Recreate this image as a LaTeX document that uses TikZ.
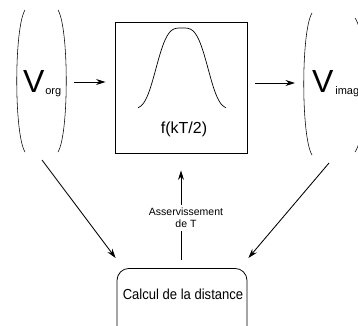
\documentclass[tikz,border=0pt]{standalone}
\usepackage{fontspec}
\setmainfont{Liberation Sans}
\newfontfamily\narrowf[FakeStretch=0.9]{Liberation Sans}
\usetikzlibrary{arrows.meta,calc}
\begin{document}
\begin{tikzpicture}[x=1pt,y=-1pt,
  arr/.style={-{Stealth[length=9.5pt,width=6pt]}, line width=0.85pt},
  brk/.style={line width=0.55pt},
  frame/.style={draw, line width=0.9pt, minimum width=132pt, minimum height=131pt, inner sep=0pt},
  holder/.style={inner sep=0pt, outer sep=0pt},
  rbox/.style={draw, line width=0.8pt, rounded corners=12pt, minimum width=130pt, minimum height=80pt, inner sep=0pt}
]
\useasboundingbox (0,0) rectangle (358,325);
\clip (0,0) rectangle (358,325);

% main nodes
\node[frame] (fbox) at (181,87.5) {};
\node[holder, minimum width=51pt, minimum height=142pt] (lb) at (41.5,82) {};
\node[holder, minimum width=63pt, minimum height=141pt] (rb) at (334.5,83) {};
\node[rbox, anchor=north] (calc) at (182,268) {};

% brackets
\draw[brk] (25,10) .. controls (14,28) and (14,134) .. (25,152);
\draw[brk] (58,10) .. controls (69,28) and (69,134) .. (58,152);
\draw[brk] (312,13) .. controls (301,31) and (301,137) .. (312,155);
\draw[brk] (355,18) .. controls (368,36) and (368,134) .. (355,152);

% texts
\node[holder, anchor=base west] (vorg) at (23,92)
  {\fontsize{32}{32}\selectfont V\kern1pt\raisebox{-2.5pt}{\fontsize{11}{12}\selectfont org}};
\node[holder, anchor=base west] (vimag) at (312,92)
  {\fontsize{32}{32}\selectfont V\kern2pt\raisebox{-2.5pt}{\fontsize{11}{12}\selectfont imag}};
\node[holder] (ftext) at (184,129)
  {\fontsize{16}{19}\selectfont f(kT/2)};
\node[holder] (calctext) at (183,294)
  {\narrowf\fontsize{14.5}{17}\selectfont Calcul de la distance};

% gaussian-like curve
\draw[line width=0.7pt] plot[domain=138:226, samples=140, smooth]
  (\x, {109-81*exp(-pow(abs(\x-182)/29,3.4))});

% connectors
\draw[arr, shorten <=7pt, shorten >=9pt] (lb.east) -- (lb.east -| fbox.west);
\draw[arr, shorten <=8pt, shorten >=8pt] (fbox.east |- rb.west) -- (rb.west);
\draw[arr] ($(lb.south)+(0.5,7)$) -- ($(calc.north west)+(-1,-10)$);
\draw[arr] ($(rb.south)+(-5.5,9.5)$) -- ($(calc.north east)+(1,-10)$);
\draw[arr, shorten <=8pt, shorten >=17pt] (fbox.south |- calc.north) -- (fbox.south);
\node[fill=white, inner sep=3pt, align=center, font=\fontsize{10.5}{12}\selectfont] (lab) at (186,218)
  {Asservissement\\de T};
\end{tikzpicture}
\end{document}
